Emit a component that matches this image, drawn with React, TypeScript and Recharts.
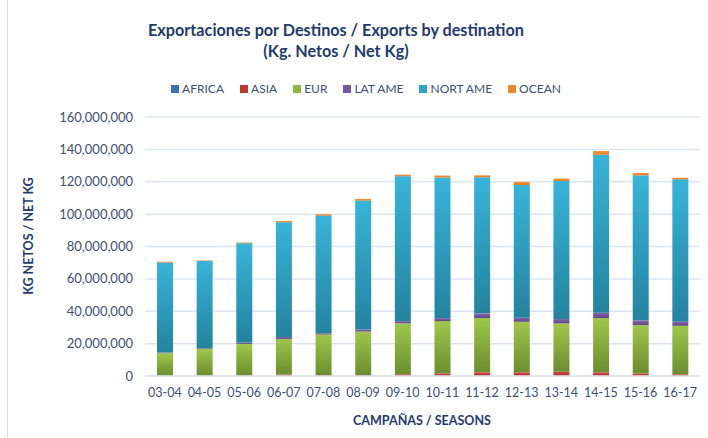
import { Bar, BarChart, CartesianGrid, XAxis, YAxis } from "recharts";

const SEASONS = ["03-04", "04-05", "05-06", "06-07", "07-08", "08-09", "09-10", "10-11", "11-12", "12-13", "13-14", "14-15", "15-16", "16-17"];

// millions of kg
const AFRICA = [0.1, 0.1, 0.1, 0.1, 0.1, 0.1, 0.1, 0.1, 0.1, 0.1, 0.1, 0.1, 0.1, 0.1];
const ASIA = [0.1, 0.1, 0.4, 0.8, 0.5, 0.5, 1.0, 1.5, 2.2, 2.2, 2.5, 2.2, 1.5, 1.0];
const EUR = [13.9, 16.6, 19.3, 22.0, 25.0, 26.9, 31.4, 32.3, 33.5, 31.2, 29.9, 33.5, 29.8, 29.9];
const LAT_AME = [0.4, 0.4, 0.9, 1.2, 0.8, 1.2, 1.4, 1.9, 2.9, 2.5, 2.7, 3.3, 3.0, 2.5];
const NORT_AME = [55.6, 53.8, 61.3, 70.9, 72.7, 79.7, 89.5, 86.9, 84.1, 82.0, 85.3, 97.6, 89.5, 88.0];
const OCEAN = [0.5, 0.4, 0.5, 0.8, 0.9, 1.0, 1.0, 1.2, 1.2, 2.0, 1.5, 2.3, 1.5, 1.0];

const Y_TICKS = [0, 20e6, 40e6, 60e6, 80e6, 100e6, 120e6, 140e6, 160e6];

const SERIES = [
  { key: "AFRICA", top: "#4A7EC8", bottom: "#2F5F9E", swatch: "#3A70B8" },
  { key: "ASIA", top: "#D9453F", bottom: "#A8302B", swatch: "#C0392F" },
  { key: "EUR", top: "#9FC74B", bottom: "#6C8D2E", swatch: "#8DB43F" },
  { key: "LAT AME", top: "#8767AE", bottom: "#5E4585", swatch: "#7356A0" },
  { key: "NORT AME", top: "#38B4D9", bottom: "#23839F", swatch: "#2FA3C8" },
  { key: "OCEAN", top: "#F79A43", bottom: "#E0781E", swatch: "#EE8A2E" },
];

const data = SEASONS.map((season, i) => ({
  season,
  AFRICA: AFRICA[i] * 1e6,
  ASIA: ASIA[i] * 1e6,
  EUR: EUR[i] * 1e6,
  "LAT AME": LAT_AME[i] * 1e6,
  "NORT AME": NORT_AME[i] * 1e6,
  OCEAN: OCEAN[i] * 1e6,
}));

const FONT = "Lato, 'Open Sans', sans-serif";
const TEXT = "#3E4F6E";
const TITLE = "#1F3B6B";
const GRID = "#DCE5EF";

function LegendRow() {
  return (
    <div
      style={{
        position: "absolute",
        left: 0,
        top: 81,
        width: 732,
        display: "flex",
        justifyContent: "center",
        gap: 16,
        fontSize: 12,
        color: TEXT,
      }}
    >
      {SERIES.map((s) => (
        <span key={s.key} style={{ display: "flex", alignItems: "center", gap: 3 }}>
          <span style={{ width: 8, height: 8, background: s.swatch, display: "inline-block" }} />
          {s.key}
        </span>
      ))}
    </div>
  );
}

export default function App() {
  return (
    <div style={{ position: "absolute", left: 0, top: 0, width: 708, height: 438, background: "#fff", fontFamily: FONT }}>
      <div style={{ position: "absolute", left: 7, top: 0, width: 1, height: 438, background: "#D9DEE6" }} />
      <BarChart
        width={708}
        height={438}
        data={data}
        margin={{ top: 117, right: 8, left: 0, bottom: 32 }}
        style={{ position: "absolute", left: 0, top: 0 }}
      >
        <defs>
          {SERIES.map((s, i) => (
            <linearGradient key={s.key} id={`g${i}`} x1="0" y1="0" x2="0" y2="1">
              <stop offset="0%" stopColor={s.top} />
              <stop offset="100%" stopColor={s.bottom} />
            </linearGradient>
          ))}
        </defs>
        <CartesianGrid stroke={GRID} strokeWidth={1.5} vertical={false} />
        <XAxis
          dataKey="season"
          height={30}
          axisLine={{ stroke: GRID, strokeWidth: 1.5 }}
          tickLine={false}
          tick={{ fill: TEXT, fontSize: 12.5, fontFamily: FONT }}
          tickMargin={6}
          interval={0}
        />
        <YAxis
          width={145}
          domain={[0, 160e6]}
          ticks={Y_TICKS}
          axisLine={false}
          tickLine={false}
          tickSize={6}
          tickMargin={6}
          tickFormatter={(v: number) => v.toLocaleString("en-US")}
          tick={{ fill: TEXT, fontSize: 13, fontFamily: FONT }}
        />
        {SERIES.map((s, i) => (
          <Bar key={s.key} dataKey={s.key} stackId="a" fill={`url(#g${i})`} barSize={16} isAnimationActive={false} />
        ))}
      </BarChart>
      <div
        style={{
          position: "absolute",
          left: 0,
          top: 19,
          width: 672,
          textAlign: "center",
          color: TITLE,
          fontWeight: 700,
          fontSize: 16.2,
          lineHeight: "21px",
        }}
      >
        Exportaciones por Destinos / Exports by destination
        <br />
        (Kg. Netos / Net Kg)
      </div>
      <LegendRow />
      <div
        style={{
          position: "absolute",
          left: 28,
          top: 236,
          transform: "translate(-50%, -50%) rotate(-90deg)",
          whiteSpace: "nowrap",
          color: TITLE,
          fontWeight: 700,
          fontSize: 12.5,
        }}
      >
        KG NETOS / NET KG
      </div>
      <div
        style={{
          position: "absolute",
          left: 422,
          top: 420,
          transform: "translate(-50%, -50%)",
          whiteSpace: "nowrap",
          color: TITLE,
          fontWeight: 700,
          fontSize: 12.5,
        }}
      >
        CAMPAÑAS / SEASONS
      </div>
    </div>
  );
}
